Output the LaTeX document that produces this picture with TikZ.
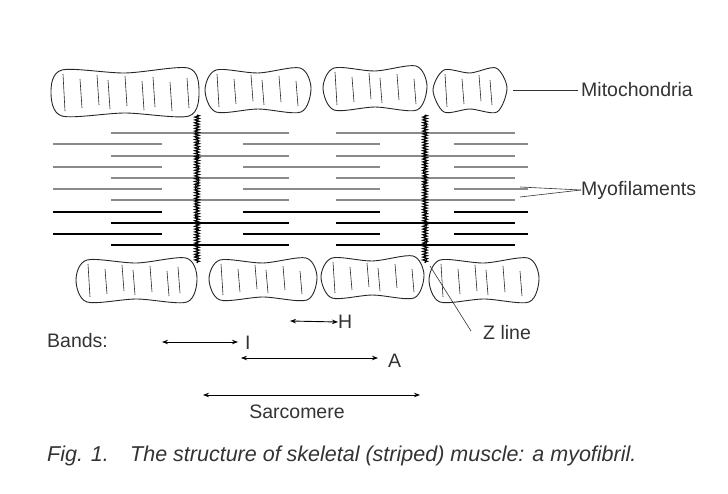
\documentclass[tikz,border=0pt]{standalone}
\usepackage{fontspec}
\setmainfont{Liberation Sans}
\usetikzlibrary{decorations.pathmorphing,arrows.meta}
\definecolor{txt}{HTML}{333333}
\definecolor{fil}{HTML}{8A8A8A}
\tikzset{
  lbl/.style={inner sep=0pt,text=txt,font=\fontsize{19.5}{22}\selectfont},
  grayf/.style={draw=fil,line width=1.1pt},
  blackf/.style={draw=black,line width=1.3pt},
  zline/.style={draw=black,line width=1pt,decorate,decoration={zigzag,amplitude=2.4pt,segment length=2.8pt}},
  zline2/.style={draw=black,line width=0.9pt,decorate,decoration={random steps,amplitude=1.8pt,segment length=2pt}},
  lead/.style={draw=txt,line width=0.6pt},
  dim/.style={draw=black,line width=0.9pt,{Stealth[length=6pt,width=4.5pt]}-{Stealth[length=6pt,width=4.5pt]}},
  mito/.style={draw=black!85,line width=0.9pt},
}
\newcommand{\mitoblob}[4]{% x1 x2 ytop ybot
  \pgfmathsetmacro{\xm}{(#1+#2)/2}\pgfmathsetmacro{\ym}{(#3+#4)/2}
  \draw[mito] plot[smooth cycle,tension=0.5] coordinates{(#1+1,\ym) (#1+12,#3+2) (\xm,#3+5) (#2-12,#3) (#2-1,\ym-2) (#2-11,#4) (\xm,#4-3) (#1+12,#4)};
  \pgfmathtruncatemacro{\n}{(#2-#1-24)/15}
  \foreach \i in {0,...,\n}{
    \pgfmathsetmacro{\xx}{#1+13+\i*15+mod(\i,3)*2}
    \pgfmathsetmacro{\ya}{#3+6+mod(\i*5,9)}
    \pgfmathsetmacro{\yb}{#4-5-mod(\i*3,7)}
    \draw[mito,line width=0.6pt] (\xx,\ya) -- (\xx+2,\yb);
  }
}
\begin{document}
\begin{tikzpicture}[x=1pt,y=-1pt]
\useasboundingbox (0,0) rectangle (728,494);
% mitochondria
\mitoblob{50}{200}{68}{116}
\mitoblob{204}{312}{68}{112}
\mitoblob{322}{428}{66}{110}
\mitoblob{432}{508}{68}{112}
\mitoblob{75}{198}{258}{302}
\mitoblob{208}{318}{258}{300}
\mitoblob{320}{425}{256}{298}
\mitoblob{428}{540}{258}{302}
% thin filaments
\foreach \y/\s in {133/grayf,156/grayf,178/grayf,200/grayf,223/blackf,245/blackf}{
  \draw[\s] (111,\y) -- (289,\y);
  \draw[\s] (336,\y) -- (515,\y);
}
% thick filaments
\foreach \y/\s in {144/grayf,167/grayf,189/grayf,212/blackf,234/blackf}{
  \draw[\s] (53,\y) -- (162,\y);
  \draw[\s] (243,\y) -- (380,\y);
  \draw[\s] (454,\y) -- (528,\y);
}
% Z lines
\coordinate (z1a) at (197,115); \coordinate (z1b) at (197,263);
\coordinate (z2a) at (425,115); \coordinate (z2b) at (425,263);
\draw[zline] (z1a) -- (z1b);
\draw[zline2] (z1a) -- (z1b);
\draw[zline] (z2a) -- (z2b);
\draw[zline2] (z2a) -- (z2b);
% labels
\node[lbl,anchor=west] (mit) at (581,90) {Mitochondria};
\coordinate (mitp) at (513,90);
\draw[lead] (mitp) -- ([xshift=-3pt]mit.west);
\node[lbl,anchor=west] (myo) at (581,190) {Myofilaments};
\coordinate (myo1) at (520,187); \coordinate (myo2) at (520,197);
\draw[lead] (myo1) -- (myo.west); \draw[lead] (myo2) -- (myo.west);
\node[lbl,anchor=west] (zl) at (483,333) {Z line};
\coordinate (zp) at (430,266);
\draw[lead] (zp) -- (471,331);
\node[lbl,anchor=west] (bands) at (47,341) {Bands:};
\node[lbl,anchor=west] (H) at (338,322) {H};
\coordinate (h1) at (290,321);
\draw[dim] (h1) -- (H.west);
\node[lbl,anchor=west] (I) at (245,343) {I};
\coordinate (i1) at (162,342);
\draw[dim] (i1) -- (238,342);
\node[lbl,anchor=west] (A) at (388,361) {A};
\coordinate (a1) at (241,358); \coordinate (a2) at (378,358);
\draw[dim] (a1) -- (a2);
\coordinate (s1) at (203,395); \coordinate (s2) at (420,395);
\draw[dim] (s1) -- (s2);
\node[lbl] (sar) at (297,412) {Sarcomere};
\node[lbl,anchor=west,font=\fontsize{21.5}{24}\selectfont\itshape] (fig) at (47,456) {Fig. 1.};
\node[lbl,anchor=west,font=\fontsize{21.5}{24}\selectfont\itshape] (cap) at (130,456) {The structure of skeletal (striped) muscle: a myofibril.};
\end{tikzpicture}
\end{document}
